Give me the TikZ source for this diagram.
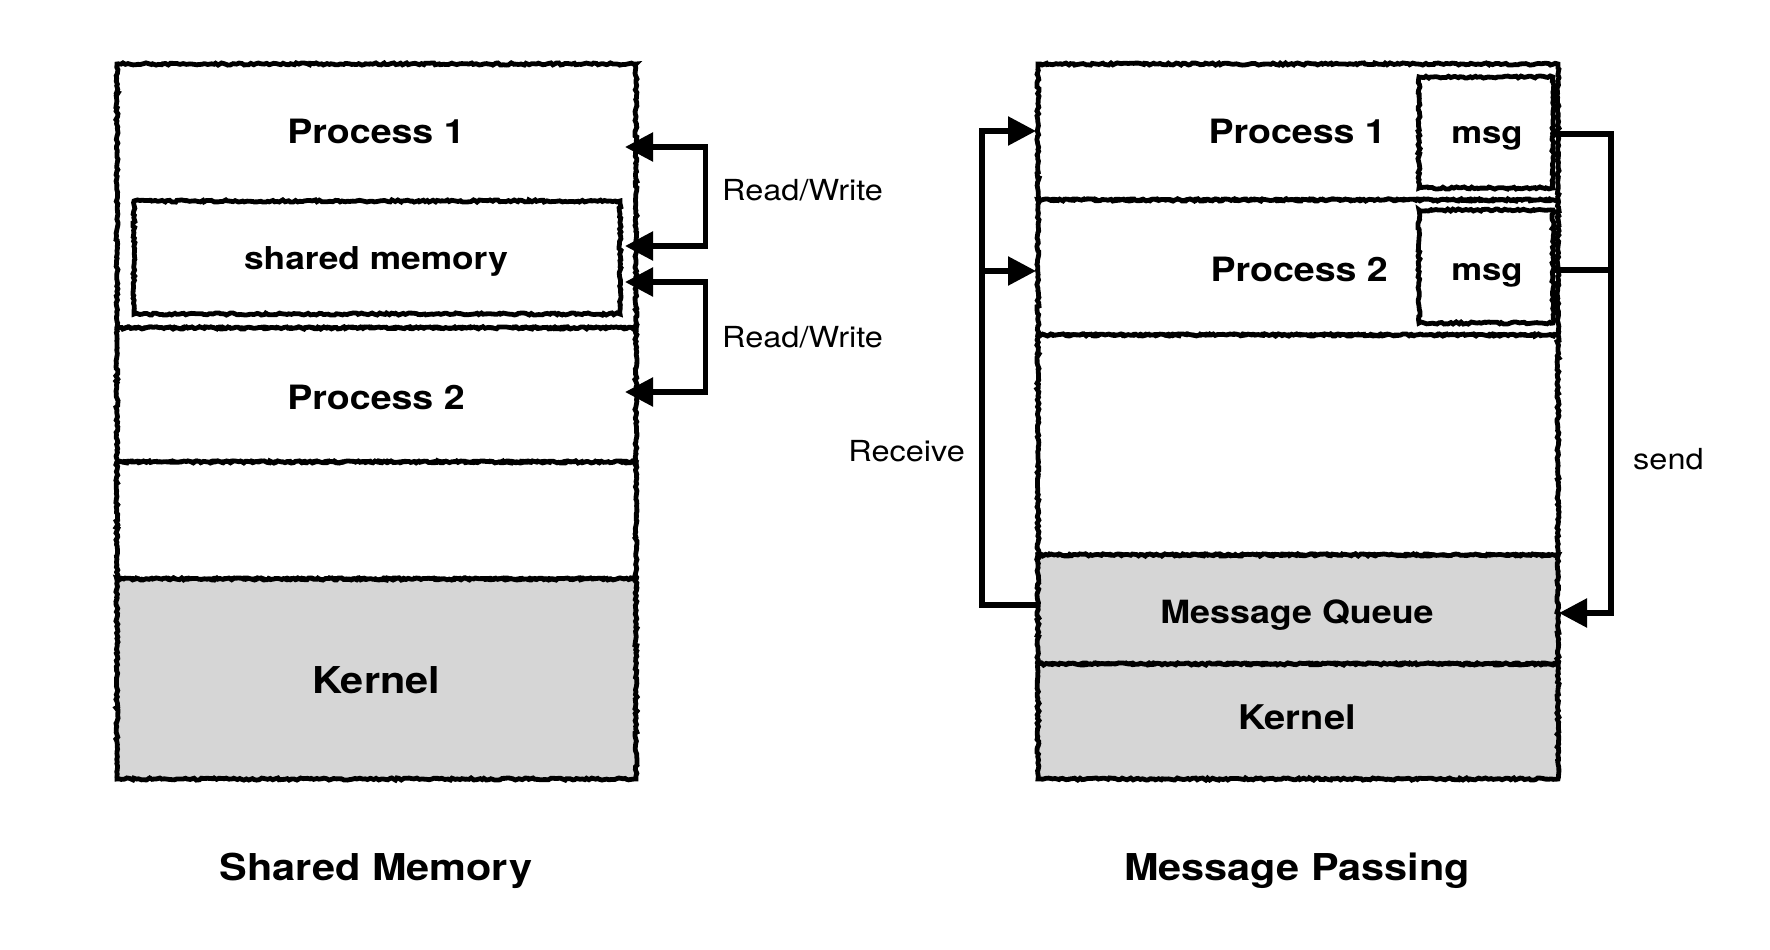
\documentclass[tikz,border=0pt]{standalone}
\usepackage{fontspec}
\setmainfont{TeX Gyre Heros}[FakeStretch=1.12]
\usetikzlibrary{arrows.meta,decorations.pathmorphing}
\definecolor{kgray}{RGB}{214,214,214}
\begin{document}
\begin{tikzpicture}[x=1pt,y=-1pt,
  sk/.style={draw=black, line width=4.8pt, decorate,
    decoration={random steps, segment length=2.5pt, amplitude=1.1pt},
    inner sep=0pt, outer sep=0pt, rectangle},
  reg/.style={sk, fill=white},
  ker/.style={sk, fill=kgray},
  tb/.style={inner sep=0pt, anchor=base, font=\bfseries\fontsize{#1}{#1}\selectfont},
  tr/.style={inner sep=0pt, anchor=base, font=\fontsize{29}{34}\selectfont},
  conn/.style={line width=5.5pt, line join=miter, line cap=butt},
  arr/.style={conn, -{Triangle[length=28pt,width=28pt]}},
  arrb/.style={conn, {Triangle[length=28pt,width=28pt]}-{Triangle[length=28pt,width=28pt]}}
]
\pgfmathsetseed{7}
\useasboundingbox (0,0) rectangle (1770,950);

% ---------- Shared Memory side ----------
\node[reg, minimum width=519pt, minimum height=264pt] (P1box) at (376.5,196) {};
\node[reg, minimum width=486pt, minimum height=113pt] (SMbox) at (377,257.5) {};
\node[reg, minimum width=519pt, minimum height=134pt] (P2box) at (376.5,395) {};
\node[reg, minimum width=519pt, minimum height=117pt] (Ebox) at (376.5,520.5) {};
\node[ker, minimum width=519pt, minimum height=200pt] (Kbox) at (376.5,679) {};

\node[tb=33.5] (tP1) at (376,143.5) {Process 1};
\node[tb=31.5] (tSM) at (376,269.5) {shared memory};
\node[tb=33.5] (tP2) at (376,409.5) {Process 2};
\node[tb=37] (tK) at (376,693.5) {Kernel};
\node[tb=37] (tcapL) at (376,880.5) {Shared Memory};

% Read/Write brackets
\coordinate (t1) at (625,147);
\coordinate (c1) at (705.5,147);
\coordinate (t2) at (625,246);
\coordinate (t3) at (625,282);
\coordinate (c3) at (705.5,282);
\coordinate (t4) at (625,392);
\draw[arrb] (t1) -- (c1) |- (t2);
\draw[arrb] (t3) -- (c3) |- (t4);
\node[tr, anchor=base west] (rw1) at (722,200) {Read/Write};
\node[tr, anchor=base west] (rw2) at (722,347) {Read/Write};

% ---------- Message Passing side ----------
\node[reg, minimum width=520pt, minimum height=136pt] (RP1box) at (1298,132) {};
\node[reg, minimum width=520pt, minimum height=135pt] (RP2box) at (1298,267.5) {};
\node[reg, minimum width=520pt, minimum height=220pt] (REbox) at (1298,445) {};
\node[ker, minimum width=520pt, minimum height=109pt] (MQbox) at (1298,609.5) {};
\node[ker, minimum width=520pt, minimum height=115pt] (RKbox) at (1298,721.5) {};
\node[reg, minimum width=134pt, minimum height=111pt] (m1box) at (1486,132.5) {};
\node[reg, minimum width=134pt, minimum height=113pt] (m2box) at (1486,266.5) {};

\node[tb=33.5, anchor=base east] (tRP1) at (1386,143.5) {Process 1};
\node[tb=33.5, anchor=base east] (tRP2) at (1388,281.5) {Process 2};
\node[tb=31] (tm1) at (1487,143) {msg};
\node[tb=31] (tm2) at (1487,280.5) {msg};
\node[tb=32] (tMQ) at (1297,623) {Message Queue};
\node[tb=34] (tRK) at (1297,729) {Kernel};
\node[tb=37] (tcapR) at (1297,880.5) {Message Passing};

% Receive
\coordinate (rs) at (1038,605);
\coordinate (rc1) at (982,131);
\coordinate (rc2) at (982,271);
\coordinate (rt1) at (1036,131);
\coordinate (rt2) at (1036,271);
\draw[arr] (MQbox.west |- rs) -| (rc1) -- (rt1);
\draw[arr] (rc2) -- (rt2);
\node[tr, anchor=base east] (trec) at (965,461) {Receive};

% send
\coordinate (sc1) at (1611,134);
\coordinate (sc2) at (1611,270);
\coordinate (st) at (1559,613);
\draw[arr] (m1box.east |- sc1) -- (sc1) |- (st);
\draw[conn] (m2box.east |- sc2) -- (sc2);
\node[tr, anchor=base west] (tsend) at (1633,469) {send};
\end{tikzpicture}
\end{document}
